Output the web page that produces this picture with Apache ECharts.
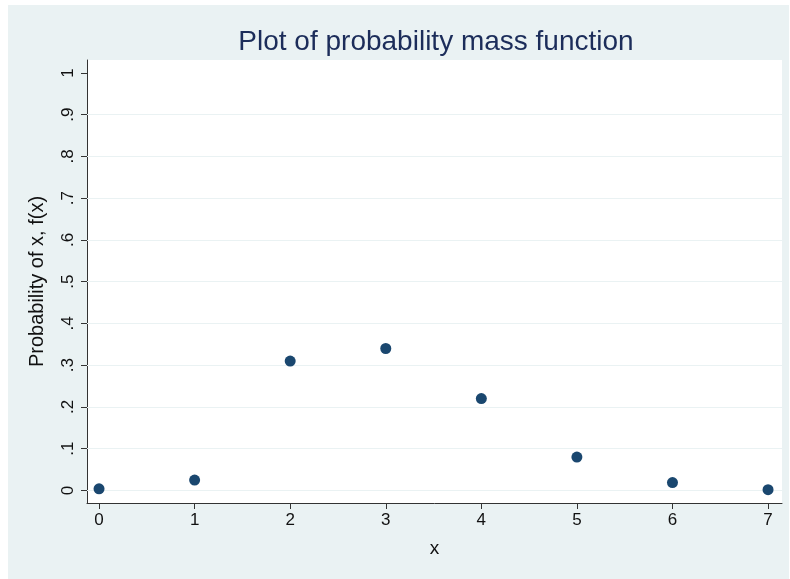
<!DOCTYPE html>
<html>
<head>
<meta charset="utf-8">
<script src="https://cdn.jsdelivr.net/npm/echarts@6/dist/echarts.min.js"></script>
<style>
html,body{margin:0;padding:0;background:#ffffff;}
#chart{width:790px;height:579px;}
</style>
</head>
<body>
<div id="chart"></div>
<script>
var xValues = [0, 1, 2, 3, 4, 5, 6, 7];
var probValues = [0.004, 0.025, 0.31, 0.34, 0.22, 0.08, 0.019, 0.002];
var xTicks = [0, 1, 2, 3, 4, 5, 6, 7];
var yTicks = [0, 0.1, 0.2, 0.3, 0.4, 0.5, 0.6, 0.7, 0.8, 0.9, 1];
var yTickLabels = ['0', '.1', '.2', '.3', '.4', '.5', '.6', '.7', '.8', '.9', '1'];
var yGridLines = [0, 0.1, 0.2, 0.3, 0.4, 0.5, 0.6, 0.7, 0.8, 0.9];

var FONT = '"Liberation Sans", Arial, sans-serif';
var chart = echarts.init(document.getElementById('chart'), null, {renderer: 'canvas'});

function yFmt(v) {
  var num = Number(v);
  var best = 0, bestD = Infinity;
  for (var i = 0; i < yTicks.length; i++) {
    var d = Math.abs(yTicks[i] - num);
    if (d < bestD) { bestD = d; best = i; }
  }
  return yTickLabels[best];
}

var option = {
  backgroundColor: '#ffffff',
  animation: false,
  graphic: [{
    type: 'rect', z: -10, silent: true,
    shape: {x: 8, y: 5, width: 781, height: 574},
    style: {fill: '#eaf2f3'}
  }],
  title: {
    text: 'Plot of probability mass function',
    left: 431, top: 23, textAlign: 'center',
    textStyle: {fontFamily: FONT, fontSize: 28, fontWeight: 'normal', color: '#1c2d5a'}
  },
  grid: {
    left: 87, right: 8, top: 60, bottom: 76,
    show: true, backgroundColor: '#ffffff', borderWidth: 0
  },
  xAxis: {
    type: 'value', min: -0.126, max: 7.146,
    name: 'x', nameLocation: 'middle', nameGap: 36,
    nameTextStyle: {fontFamily: FONT, fontSize: 19, color: '#111'},
    axisLine: {show: true, onZero: false, lineStyle: {color: '#333', width: 1}},
    axisTick: {show: true, length: 6, customValues: xTicks, lineStyle: {color: '#333'}},
    axisLabel: {customValues: xTicks, margin: 9, fontFamily: FONT, fontSize: 17, color: '#111',
      formatter: function (v) { return String(Math.round(Number(v))); }},
    splitLine: {show: false}
  },
  yAxis: {
    type: 'value', min: -0.03, max: 1.031,
    name: 'Probability of x, f(x)', nameLocation: 'middle', nameGap: 40,
    nameTextStyle: {fontFamily: FONT, fontSize: 20, color: '#111'},
    axisLine: {show: true, onZero: false, lineStyle: {color: '#333', width: 1}},
    axisTick: {show: true, length: 6, customValues: yTicks, lineStyle: {color: '#333'}},
    axisLabel: {customValues: yTicks, rotate: 90, margin: 10, fontFamily: FONT, fontSize: 17, color: '#111',
      formatter: yFmt},
    splitLine: {show: false}
  },
  series: [{
    type: 'scatter',
    data: xValues.map(function (x, i) { return [x, probValues[i]]; }),
    symbol: 'circle', symbolSize: 11,
    itemStyle: {color: '#1a476f', opacity: 1},
    z: 5,
    markLine: {
      silent: true, symbol: ['none', 'none'], animation: false,
      label: {show: false},
      lineStyle: {color: '#eaf2f3', width: 1.2, type: 'solid'},
      data: yGridLines.map(function (v) { return {yAxis: v}; }),
      z: 1
    }
  }]
};
chart.setOption(option);
</script>
</body>
</html>
